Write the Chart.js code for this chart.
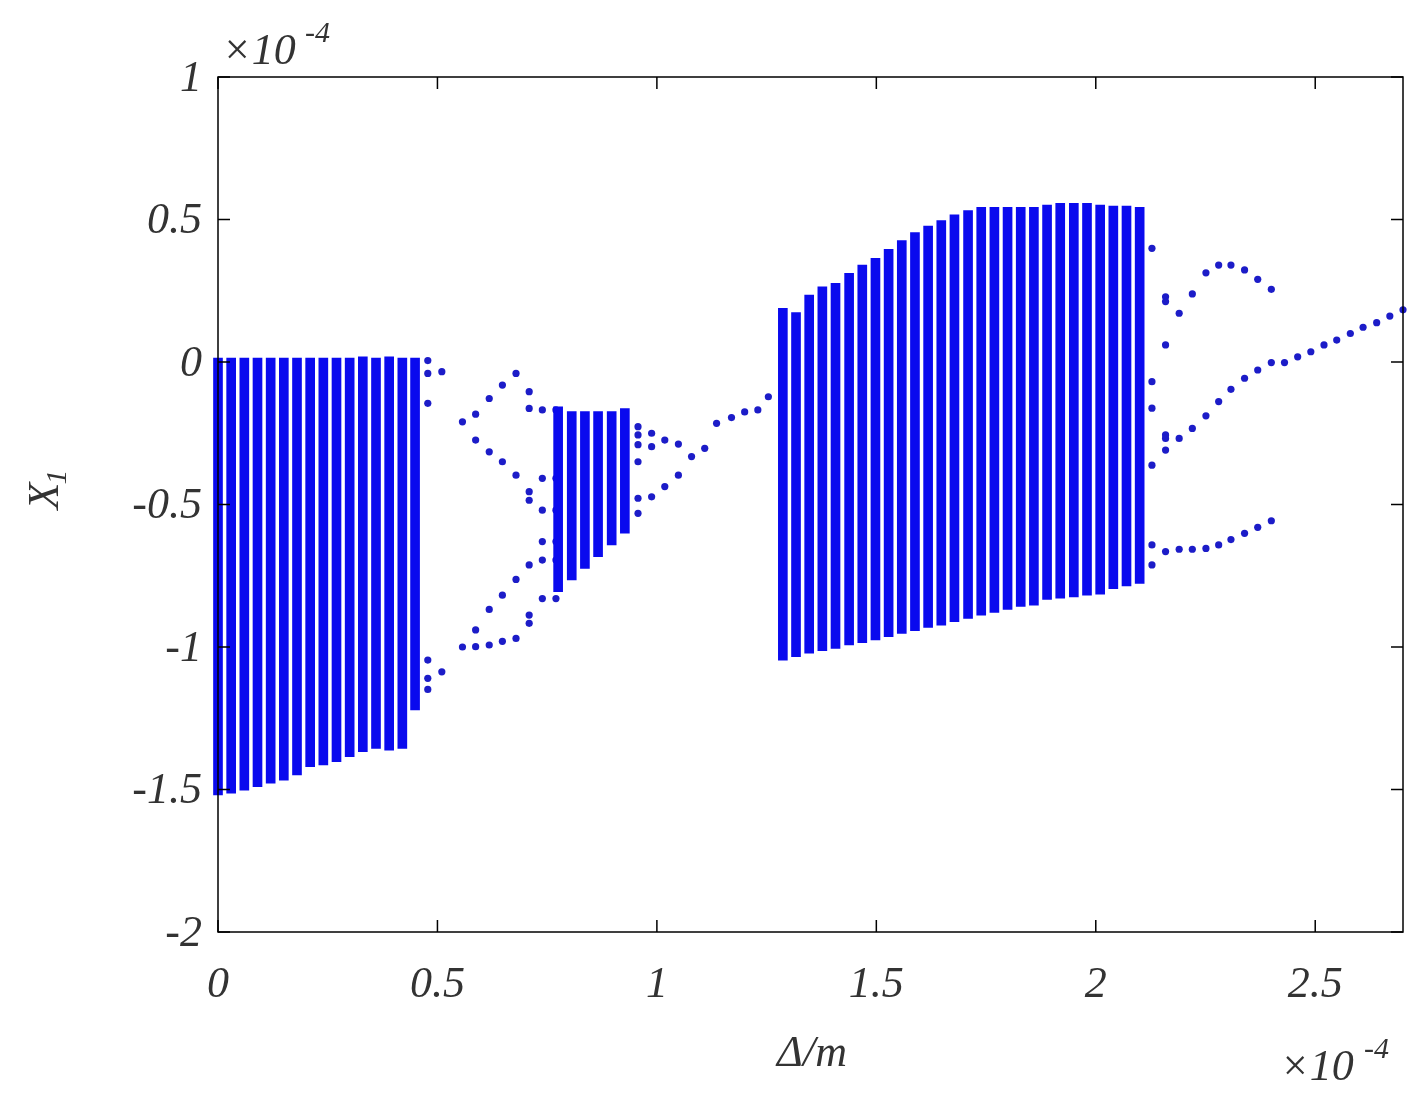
<!DOCTYPE html>
<html><head><meta charset="utf-8">
<script src="https://cdn.jsdelivr.net/npm/chart.js@4"></script>
<style>html,body{margin:0;background:#fff}#w{width:1419px;height:1102px}</style>
</head><body><div id="w"><canvas id="c"></canvas></div>
<script>
// chaotic bands: x, top, bottom
const band1X=[0,0.03,0.06,0.09,0.12,0.15,0.18,0.21,0.24,0.27,0.30,0.33,0.36,0.39,0.42,0.449];
const band1Top=[0.014,0.014,0.014,0.014,0.014,0.014,0.014,0.014,0.014,0.014,0.014,0.018,0.014,0.018,0.014,0.014];
const band1Bot=[-1.519,-1.513,-1.502,-1.49,-1.478,-1.467,-1.449,-1.42,-1.414,-1.402,-1.385,-1.367,-1.356,-1.362,-1.356,-1.221];
const band2X=[0.775,0.806,0.836,0.866,0.897,0.927];
const band2Top=[-0.157,-0.174,-0.174,-0.174,-0.174,-0.163];
const band2Bot=[-0.806,-0.765,-0.724,-0.683,-0.642,-0.601];
const band3X=[1.287,1.317,1.347,1.377,1.407,1.438,1.468,1.498,1.528,1.558,1.588,1.618,1.648,1.678,1.709,1.739,1.769,1.799,1.829,1.859,1.889,1.919,1.95,1.98,2.01,2.04,2.07,2.1];
const band3Top=[0.188,0.173,0.235,0.264,0.276,0.311,0.34,0.364,0.395,0.426,0.454,0.477,0.496,0.516,0.531,0.543,0.543,0.543,0.543,0.543,0.551,0.557,0.557,0.557,0.551,0.547,0.547,0.543];
const band3Bot=[-1.046,-1.034,-1.022,-1.013,-1.005,-0.993,-0.985,-0.975,-0.964,-0.952,-0.943,-0.931,-0.923,-0.911,-0.9,-0.888,-0.879,-0.868,-0.858,-0.853,-0.833,-0.829,-0.824,-0.818,-0.815,-0.795,-0.786,-0.777];
// periodic points
const ptX=[0.478,0.478,0.478,0.51,0.478,0.478,0.478,0.51,
0.557,0.587,0.618,0.648,0.679,0.709,0.709,0.739,0.77,
0.587,0.618,0.648,0.679,0.709,0.709,0.739,0.77,0.739,0.77,
0.557,0.587,0.587,0.618,0.618,0.648,0.648,0.679,0.679,0.709,0.709,0.709,0.739,0.77,0.739,0.77,0.739,0.77,
0.957,0.957,0.957,0.957,0.957,0.957,0.988,0.988,0.988,1.018,1.018,1.049,1.049,1.079,1.109,1.136,
1.17,1.2,1.23,1.254,
2.128,2.128,2.128,2.128,2.128,2.128,2.159,2.159,2.159,2.159,2.159,2.159,2.159,
2.19,2.19,2.19,2.22,2.22,2.22,2.251,2.251,2.251,2.28,2.28,2.28,2.308,2.308,2.308,2.339,2.339,2.339,2.369,2.369,2.369,2.4,2.4,2.4,
2.43,2.46,2.49,2.52,2.549,2.58,2.609,2.64,2.67,2.7];
const ptY=[0.005,-0.04,-0.145,-0.034,-1.046,-1.11,-1.149,-1.087,
-0.21,-0.183,-0.128,-0.081,-0.04,-0.104,-0.163,-0.168,-0.168,
-0.274,-0.315,-0.35,-0.397,-0.455,-0.485,-0.408,-0.408,-0.52,-0.52,
-1.0,-0.999,-0.94,-0.993,-0.868,-0.98,-0.818,-0.97,-0.763,-0.888,-0.917,-0.712,-0.83,-0.83,-0.695,-0.695,-0.63,-0.63,
-0.227,-0.256,-0.29,-0.35,-0.478,-0.531,-0.25,-0.297,-0.473,-0.274,-0.437,-0.288,-0.397,-0.332,-0.303,-0.215,
-0.195,-0.175,-0.168,-0.122,
0.399,-0.069,-0.162,-0.362,-0.642,-0.712,0.229,0.212,0.06,-0.256,-0.268,-0.309,-0.665,
0.171,-0.268,-0.657,0.239,-0.233,-0.657,0.313,-0.189,-0.654,0.34,-0.139,-0.642,0.34,-0.096,-0.623,0.323,-0.057,-0.601,0.29,-0.028,-0.58,0.255,-0.002,-0.557,
-0.002,0.018,0.036,0.06,0.077,0.1,0.122,0.138,0.161,0.183];
const xTicks=[0,0.5,1,1.5,2,2.5];
const xTickLabels=['0','0.5','1','1.5','2','2.5'];
const yTicks=[1,0.5,0,-0.5,-1,-1.5,-2];
const yTickLabels=['1','0.5','0','-0.5','-1','-1.5','-2'];

const BLUE='#0a0aee';
const mkBand=(X,T,B)=>X.map((x,i)=>({x:x,y:[B[i],T[i]]}));
const FONT='italic 44px "Liberation Serif", serif';
const SFONT='italic 30px "Liberation Serif", serif';
const deco={id:'deco',afterDraw(ch){
  const c=ch.ctx,a=ch.chartArea,xs=ch.scales.x,ys=ch.scales.y;
  c.save();c.strokeStyle='#000';c.lineWidth=1.5;
  c.strokeRect(a.left,a.top,a.right-a.left,a.bottom-a.top);
  c.fillStyle='#333';c.font=FONT;
  xTicks.forEach((v,i)=>{const p=xs.getPixelForValue(v);
    c.beginPath();c.moveTo(p,a.bottom);c.lineTo(p,a.bottom-12);c.moveTo(p,a.top);c.lineTo(p,a.top+12);c.stroke();
    c.textAlign='center';c.textBaseline='middle';c.fillText(xTickLabels[i],p,985);});
  yTicks.forEach((v,i)=>{const p=ys.getPixelForValue(v);
    c.beginPath();c.moveTo(a.left,p);c.lineTo(a.left+12,p);c.moveTo(a.right,p);c.lineTo(a.right-12,p);c.stroke();
    c.textAlign='right';c.textBaseline='middle';c.fillText(yTickLabels[i],202,p+2);});
  c.textAlign='left';c.textBaseline='alphabetic';
  c.fillText('\u00d710',222,64);c.font=SFONT;c.fillText('-4',305,42);
  c.font=FONT;c.fillText('\u00d710',1280,1080);c.font=SFONT;c.fillText('-4',1364,1058);
  c.font=FONT;c.textAlign='center';c.fillText('\u0394/m',812,1066);
  c.translate(58,490);c.rotate(-Math.PI/2);c.fillText('X',-6,0);c.font=SFONT;c.fillText('1',13,8);
  c.restore();}};
new Chart(document.getElementById('c'),{type:'scatter',
 data:{datasets:[
  {type:'bar',data:mkBand(band1X,band1Top,band1Bot),backgroundColor:BLUE,barThickness:9,grouped:false,clip:false},
  {type:'bar',data:mkBand(band2X,band2Top,band2Bot),backgroundColor:BLUE,barThickness:9,grouped:false,clip:false},
  {type:'bar',data:mkBand(band3X,band3Top,band3Bot),backgroundColor:BLUE,barThickness:9,grouped:false,clip:false},
  {type:'scatter',data:ptX.map((x,i)=>({x:x,y:ptY[i]})),backgroundColor:'#1c1cc8',borderColor:'#1c1cc8',borderWidth:0,pointRadius:3.6,pointStyle:'circle',clip:false}]},
 options:{responsive:true,maintainAspectRatio:false,animation:false,devicePixelRatio:1,
  layout:{padding:{left:0,right:16,top:77,bottom:0}},
  plugins:{legend:{display:false},tooltip:{enabled:false}},
  scales:{x:{type:'linear',min:0,max:2.7,offset:false,grid:{display:false},border:{display:false},ticks:{display:false},afterFit(s){s.height=170;}},
          y:{type:'linear',min:-2,max:1,grid:{display:false},border:{display:false},ticks:{display:false},afterFit(s){s.width=218;}}}},
 plugins:[deco]});
</script></body></html>
